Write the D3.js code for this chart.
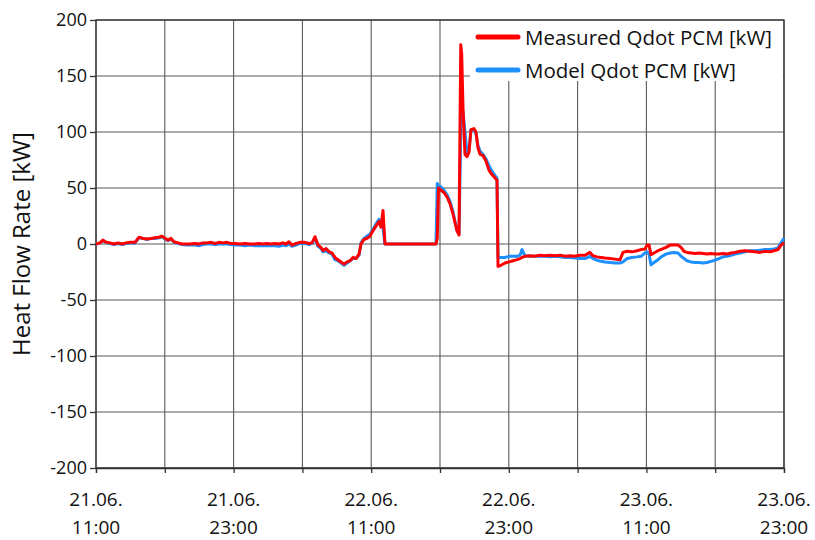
<!DOCTYPE html>
<html>
<head>
<meta charset="utf-8">
<script src="https://cdn.jsdelivr.net/npm/d3@7/dist/d3.min.js"></script>
<style>
  html, body { margin: 0; padding: 0; background: #fff; }
  svg { display: block; font-family: "Open Sans", "Noto Sans", sans-serif; }
</style>
</head>
<body>
<svg id="chart" width="815" height="540"></svg>
<script>
// Hours elapsed since 21.06. 11:00 for every sample
const hours = [
  0, 0.35, 0.61, 0.87, 1.22, 1.57, 1.92, 2.27, 2.62, 2.97, 3.40, 3.75, 4.10, 4.45, 4.80, 5.15, 5.49, 5.76,
  6.02, 6.28, 6.54, 6.80, 7.15, 7.50, 7.85, 8.20, 8.63, 8.98, 9.33, 9.68, 10.03, 10.38, 10.73, 11.08, 11.42,
  11.77, 12.12, 12.56, 12.99, 13.43, 13.87, 14.22, 14.56, 14.91, 15.26, 15.61, 15.96, 16.31, 16.57, 16.83,
  17.09, 17.44, 17.79, 18.23, 18.58, 18.84, 19.10, 19.36, 19.62, 19.80, 20.06, 20.32, 20.58, 20.84, 21.10,
  21.37, 21.63, 21.89, 22.15, 22.41, 22.67, 22.94, 23.11, 23.37, 23.63, 23.90, 24.16, 24.42, 24.68, 24.85,
  25.03, 25.20, 26.51, 28.26, 29.65, 29.76, 29.87, 30.09, 30.35, 30.61, 30.87, 31.13, 31.31, 31.48, 31.66,
  31.81, 31.89, 32.01, 32.18, 32.36, 32.53, 32.70, 32.97, 33.14, 33.31, 33.49, 33.75, 34.01, 34.27, 34.53,
  34.80, 34.97, 35.06, 35.32, 35.67, 36.02, 36.37, 36.72, 36.98, 37.15, 37.41, 37.85, 38.28, 38.72, 39.16,
  39.59, 40.03, 40.47, 40.90, 41.34, 41.77, 42.21, 42.65, 43.08, 43.34, 43.69, 44.04, 44.39, 44.83, 45.26,
  45.70, 45.96, 46.31, 46.74, 47.18, 47.53, 47.88, 48.05, 48.23, 48.40, 48.66, 49.01, 49.36, 49.71, 50.06,
  50.41, 50.76, 51.02, 51.28, 51.54, 51.89, 52.24, 52.59, 52.94, 53.28, 53.63, 53.98, 54.33, 54.68, 55.02,
  55.38, 55.73, 56.16, 56.60, 57.03, 57.47, 57.91, 58.34, 58.78, 59.13, 59.48, 59.74, 60.00
];

// Measured heat flow into the PCM storage [kW]
const measured = [
  0, 1, 3.5, 1.5, 1, 0, 1, 0, 1, 1.5, 1.5, 6, 5, 4.5, 5, 5.5, 6, 7,
  5, 3.5, 5, 2, 1, 0, 0, 0, 0.5, 0, 1, 1, 1.5, 0.5, 1.5, 1, 1.5,
  0.5, 0.5, 0, 0.5, 0, 0, 0.5, 0, 0.5, 0, 0.5, 0, 1, 0, 2,
  -1, 0.5, 1.5, 1.5, 0.5, 1, 6.5, -1, -3, -6, -4, -7, -8, -12, -14,
  -16, -18, -16, -15, -12, -13, -9, 0, 4, 5, 7, 12, 16, 20, 15,
  30, 0, 0, 0, 0, 5, 50, 48, 46, 42, 36, 27, 19, 12, 8,
  178, 170, 120, 80, 78, 82, 102, 103, 100, 86, 80, 79, 74, 66, 62,
  59, 57, -20, -19, -17, -16, -15, -14, -13, -12, -11, -10.5, -11, -10, -10.5,
  -10, -10.5, -10, -11, -10.5, -11, -10, -10, -7.5, -10.5, -11.5, -12, -12.5, -13, -13.5,
  -14, -7.5, -6.5, -7, -6, -5, -4.5, -1, -1, -9.5, -8, -6, -4.5, -3, -1,
  -1, -1, -3, -6.5, -7.5, -8, -8.5, -8, -8.5, -9, -8.5, -9, -9, -8.5, -9,
  -8, -7.5, -6.5, -6, -6.5, -7, -7.5, -6.5, -7, -6, -5, -1, 1
];

// Simulated heat flow from the PCM model [kW]
const model = [
  0, 1, 3, 1.5, 0.5, -0.5, 0.5, -0.5, 0.5, 1, 1, 5.5, 5, 4, 5, 5, 5.5, 6.5,
  4.5, 3, 4.5, 1.5, 0.5, -0.5, -1, -1, -1, -1.5, -0.5, 0, 0, -0.5, 0, 0, 0,
  -0.5, -1, -1, -1.5, -1, -1.5, -1.5, -1.5, -1.5, -1.5, -1.5, -2, -1, -1.5, 0,
  -2, -1, 0.5, 0.5, -0.5, 0.5, 5, -2, -4, -7, -6, -8, -9, -14, -15,
  -17, -19, -17, -15, -13, -13, -10, 1, 5, 7, 9, 13, 18, 22, 18,
  14, 0, 0, 0, 0, 54, 52, 51, 48, 44, 38, 29, 20, 12, 9,
  100, 122, 118, 100, 80, 84, 102, 102, 98, 88, 83, 80, 76, 70, 65,
  61, 59, -12, -12, -12, -11, -11, -11, -10, -5, -10.5, -11, -11, -11, -11,
  -11.5, -11, -11.5, -12, -12, -12.5, -13, -13, -11, -13, -14.5, -15.5, -16, -16.5, -17,
  -17, -16, -13, -12, -11.5, -11, -8, -7, -9, -18.5, -16.5, -14, -11, -9, -8,
  -7.5, -8, -11, -13, -15, -16, -16.5, -16.5, -17, -16.5, -15.5, -14.5, -13, -11.5, -11,
  -10, -9, -8, -7, -6, -6, -5.5, -5, -5, -4.5, -3.5, 1, 5
];

const yTicks = [-200, -150, -100, -50, 0, 50, 100, 150, 200];
const gridStepHours = 6;
const labelStepHours = 12;
const seriesNames = ["Measured Qdot PCM [kW]", "Model Qdot PCM [kW]"];
const seriesColors = ["#ff0000", "#1e8fff"];
const yLabel = "Heat Flow Rate [kW]";

const start = new Date(2021, 5, 21, 11, 0);
const end = new Date(2021, 5, 23, 23, 0);
const toDate = h => new Date(start.getTime() + h * 3600e3);
const spanHours = (end - start) / 3600e3;

const margin = { left: 96, top: 20, right: 31, bottom: 72 };
const W = 815, H = 540;
const iw = W - margin.left - margin.right;
const ih = H - margin.top - margin.bottom;

const svg = d3.select("#chart");
const g = svg.append("g").attr("transform", `translate(${margin.left},${margin.top})`);

const x = d3.scaleTime().domain([start, end]).range([0, iw]);
const y = d3.scaleLinear().domain([-200, 200]).range([ih, 0]);

// grid every 6 h, labels every 12 h, both anchored at the start time
const gridTimes = d3.range(0, spanHours + 0.01, gridStepHours).map(toDate);
const labelTimes = d3.range(0, spanHours + 0.01, labelStepHours).map(toDate);

g.append("g").selectAll("line").data(gridTimes).join("line")
  .attr("x1", d => x(d)).attr("x2", d => x(d))
  .attr("y1", 0).attr("y2", ih)
  .attr("stroke", "#5a5a5a").attr("stroke-width", 1.1);
g.append("g").selectAll("line").data(yTicks).join("line")
  .attr("x1", 0).attr("x2", iw)
  .attr("y1", d => y(d)).attr("y2", d => y(d))
  .attr("stroke", "#5a5a5a").attr("stroke-width", 1.1);

// axes
const fmtDay = d3.timeFormat("%d.%m.");
const fmtTime = d3.timeFormat("%H:%M");

const xAxis = g.append("g").attr("transform", `translate(0,${ih})`)
  .call(d3.axisBottom(x).tickValues(gridTimes).tickSize(5).tickFormat(""));
xAxis.selectAll("path, line").attr("stroke", "#333").attr("stroke-width", 1.3);

const xLab = g.append("g").attr("transform", `translate(0,${ih})`);
xLab.selectAll("text").data(labelTimes).join("text")
  .attr("x", d => x(d)).attr("y", 38)
  .attr("text-anchor", "middle").attr("font-size", 19).attr("fill", "#111")
  .each(function(d) {
    const t = d3.select(this);
    t.append("tspan").attr("x", x(d)).attr("dy", 0).text(fmtDay(d));
    t.append("tspan").attr("x", x(d)).attr("dy", 28).text(fmtTime(d));
  });

const yAxis = g.append("g")
  .call(d3.axisLeft(y).tickValues(yTicks).tickSize(6).tickPadding(3).tickFormat(d => String(d)));
yAxis.select(".domain").remove();
yAxis.selectAll("line").attr("stroke", "#333").attr("stroke-width", 1.3);
yAxis.selectAll("text").attr("font-size", 18).attr("fill", "#111")
  .attr("font-family", "\"Open Sans\", \"Noto Sans\", sans-serif");

// plot frame
g.append("rect").attr("x", 0).attr("y", 0).attr("width", iw).attr("height", ih)
  .attr("fill", "none").attr("stroke", "#333").attr("stroke-width", 1.3);

// y axis title
svg.append("text")
  .attr("transform", `translate(30,${margin.top + y(0)}) rotate(-90)`)
  .attr("text-anchor", "middle").attr("font-size", 24).attr("fill", "#111")
  .text(yLabel);

// series
const line = vals => d3.line()
  .x((d, i) => x(toDate(hours[i])))
  .y(d => y(d))(vals);

g.append("path").attr("d", line(model))
  .attr("fill", "none").attr("stroke", seriesColors[1]).attr("stroke-width", 3)
  .attr("stroke-linejoin", "round");
g.append("path").attr("d", line(measured))
  .attr("fill", "none").attr("stroke", seriesColors[0]).attr("stroke-width", 3)
  .attr("stroke-linejoin", "round");

// legend
const lg = g.append("g").attr("transform", `translate(${iw - 314},1)`);
lg.append("rect").attr("x", 0).attr("y", 0).attr("width", 313).attr("height", 60)
  .attr("fill", "#fff");
seriesNames.forEach((name, i) => {
  const yy = 16 + i * 33;
  lg.append("line").attr("x1", 8).attr("x2", 48).attr("y1", yy).attr("y2", yy)
    .attr("stroke", seriesColors[i]).attr("stroke-width", 5).attr("stroke-linecap", "round");
  lg.append("text").attr("x", 55).attr("y", yy + 7.5)
    .attr("font-size", 20.5).attr("fill", "#111").text(name);
});
</script>
</body>
</html>
